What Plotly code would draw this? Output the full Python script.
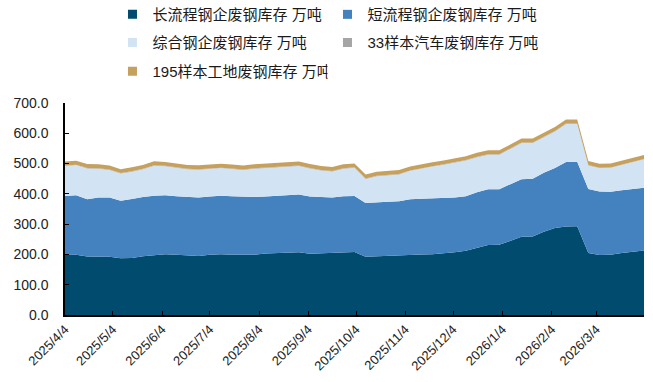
import datetime as dt
import plotly.graph_objects as go

# Weekly scrap-steel inventory (万吨), Fridays from 2025-04-04
start = dt.date(2025, 4, 4)
weeks = [start + dt.timedelta(days=7 * i) for i in range(53)]

long_process = [198, 199, 193, 193, 192, 187, 188, 194, 198, 201, 199, 196, 195, 199,
                201, 199, 198, 199, 203, 205, 206, 207, 202, 203, 204, 207, 208, 192,
                194, 195, 197, 199, 200, 201, 203, 207, 212, 222, 231, 232, 245, 258,
                259, 275, 287, 292, 293, 205, 198, 199, 205, 210, 213]
short_process = [195, 196, 189, 195, 196, 190, 195, 196, 196, 194, 193, 193, 193, 192,
                 193, 193, 192, 191, 188, 188, 189, 191, 189, 186, 184, 185, 185, 178,
                 179, 179, 179, 183, 184, 184, 183, 181, 180, 183, 184, 183, 187, 190,
                 191, 195, 198, 213, 213, 211, 210, 208, 207, 207, 207]
integrated = [99, 100, 102, 95, 91, 90, 90, 91, 99, 96, 94, 92, 92, 92,
              91, 90, 89, 93, 94, 93, 95, 94, 93, 88, 86, 91, 93, 79,
              85, 86, 88, 94, 100, 105, 110, 116, 118, 116, 114, 114, 116, 120,
              118, 116, 121, 126, 125, 78, 77, 79, 84, 89, 94]
auto_33 = [1.5, 1.5, 1.4, 1.4, 1.5, 1.5, 1.4, 1.5, 1.5, 1.6, 1.5, 1.5, 1.4, 1.5,
           1.5, 1.5, 1.4, 1.5, 1.5, 1.5, 1.6, 1.5, 1.5, 1.4, 1.4, 1.5, 1.5, 1.3,
           1.4, 1.4, 1.5, 1.5, 1.5, 1.5, 1.6, 1.6, 1.5, 1.5, 1.5, 1.5, 1.6, 1.6,
           1.6, 1.5, 1.5, 1.5, 1.5, 1.4, 1.4, 1.4, 1.5, 1.5, 1.5]
site_195 = [13.0, 13.1, 13.0, 13.2, 13.1, 13.0, 13.1, 13.0, 13.0, 12.9, 13.0, 13.1, 13.1, 13.0,
            13.0, 13.1, 13.2, 13.0, 13.0, 13.0, 12.9, 13.0, 13.1, 13.2, 13.2, 13.0, 13.0, 13.3,
            13.2, 13.1, 13.0, 13.0, 13.0, 13.0, 12.9, 12.9, 13.0, 13.0, 13.1, 13.1, 12.9, 12.9,
            12.9, 13.0, 13.0, 13.0, 13.0, 13.2, 13.2, 13.1, 13.0, 13.0, 13.0]

series_names = ["长流程钢企废钢库存 万吨", "短流程钢企废钢库存 万吨", "综合钢企废钢库存 万吨",
                "33样本汽车废钢库存 万吨", "195样本工地废钢库存 万吨"]
series_values = [long_process, short_process, integrated, auto_33, site_195]
series_colors = ["#004B6E", "#4382BF", "#D2E4F4", "#A5A5A5", "#C6A15E"]

tick_dates = [dt.date(2025, m, 4) for m in range(4, 13)] + [dt.date(2026, m, 4) for m in range(1, 4)]
tick_labels = [f"{d.year}/{d.month}/{d.day}" for d in tick_dates]
y_ticks = [0, 100, 200, 300, 400, 500, 600, 700]

fig = go.Figure()

for name, vals, color in zip(series_names, series_values, series_colors):
    fig.add_trace(go.Scatter(
        x=weeks, y=vals, name=name, stackgroup="inv", mode="lines",
        line=dict(width=0, color=color), fillcolor=color,
        showlegend=False, hoverinfo="skip",
    ))

# Legend entries: square swatches spread over three rows
legend_ids = ["legend", "legend", "legend2", "legend2", "legend3"]
for name, color, lg in zip(series_names, series_colors, legend_ids):
    fig.add_trace(go.Scatter(
        x=[None], y=[None], name=name, mode="markers",
        marker=dict(symbol="square", size=9, color=color),
        legend=lg, showlegend=True,
    ))

font_family = "Liberation Sans, Arial, Noto Sans CJK SC"
legend_common = dict(
    orientation="h", xanchor="left", yanchor="middle", x=0.082,
    traceorder="normal",
    entrywidth=170, entrywidthmode="pixels",
    font=dict(family=font_family, size=15, color="#1a1a1a"),
    bgcolor="rgba(0,0,0,0)", borderwidth=0, itemclick=False, itemdoubleclick=False,
)

fig.update_layout(
    width=653, height=382,
    margin=dict(l=65, r=9, t=103, b=67, autoexpand=False),
    paper_bgcolor="white", plot_bgcolor="white",
    legend=dict(legend_common, y=1.417),
    legend2=dict(legend_common, y=1.284),
    legend3=dict(legend_common, y=1.148),
    xaxis=dict(
        type="date", range=[weeks[0], weeks[-1]],
        tickvals=tick_dates, ticktext=tick_labels, tickangle=-45,
        ticks="inside", ticklen=4, tickcolor="#000",
        showline=True, linecolor="#000", linewidth=1.5,
        showgrid=False, zeroline=False,
        tickfont=dict(family=font_family, size=13, color="#222"),
    ),
    yaxis=dict(
        range=[0, 700], tickvals=y_ticks, tickformat=".1f",
        ticks="inside", ticklen=4, tickcolor="#000",
        showline=True, linecolor="#000", linewidth=1.5,
        showgrid=False, zeroline=False, ticklabelstandoff=12,
        tickfont=dict(family=font_family, size=14, color="#222"),
    ),
)

fig.write_html("out.html")
